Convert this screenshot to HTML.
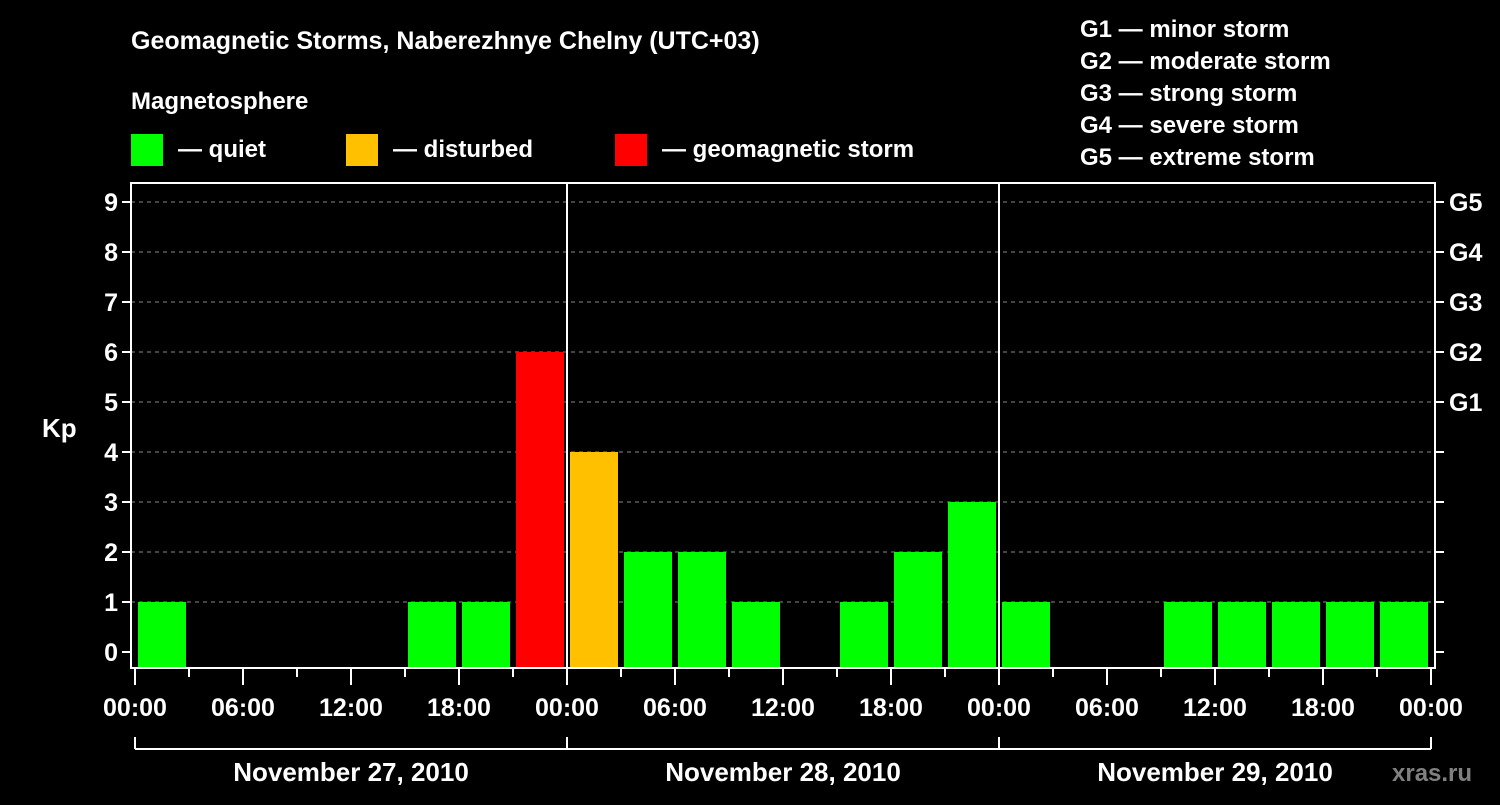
<!DOCTYPE html>
<html><head><meta charset="utf-8"><style>
body{margin:0;background:#000;width:1500px;height:800px;overflow:hidden;font-family:"Liberation Sans",sans-serif;font-weight:bold;color:#fff}
svg text{font-family:"Liberation Sans",sans-serif;font-weight:bold;fill:#fff}
</style></head><body>
<svg id="c" width="1500" height="800">
<text x="131" y="49" font-size="25">Geomagnetic Storms, Naberezhnye Chelny (UTC+03)</text>
<text x="131" y="109" font-size="24">Magnetosphere</text>
<rect x="131" y="134" width="32" height="32" fill="#00ff00"/>
<text x="178" y="157" font-size="24">— quiet</text>
<rect x="346" y="134" width="32" height="32" fill="#ffc000"/>
<text x="393" y="157" font-size="24">— disturbed</text>
<rect x="615" y="134" width="32" height="32" fill="#ff0000"/>
<text x="662" y="157" font-size="24">— geomagnetic storm</text>
<g font-size="24">
<text x="1080" y="37">G1 — minor storm</text>
<text x="1080" y="69">G2 — moderate storm</text>
<text x="1080" y="101">G3 — strong storm</text>
<text x="1080" y="133">G4 — severe storm</text>
<text x="1080" y="165">G5 — extreme storm</text>
</g>
<text x="42" y="437" font-size="26">Kp</text>
<text x="1392" y="781" font-size="24" fill="#808080" style="fill:#808080">xras.ru</text>
<g id="plot"></g>
</svg>
<script>
const days = ["November 27, 2010","November 28, 2010","November 29, 2010"];
const kpValues = [1,0,0,0,0,1,1,6, 4,2,2,1,0,1,2,3, 1,0,0,1,1,1,1,1];
const yTicks = [0,1,2,3,4,5,6,7,8,9];
const gLabels = ["G1","G2","G3","G4","G5"];
const timeLabels = ["00:00","06:00","12:00","18:00"];

const NS="http://www.w3.org/2000/svg";
const g=document.getElementById('plot');
const X0=135, DAY=432, L=131, R=1435, T=183, B=668;
const x=h=>X0+h*DAY/24;
const y=v=>652-50*v;
function el(t,a){const e=document.createElementNS(NS,t);for(const k in a)e.setAttribute(k,a[k]);g.appendChild(e);return e;}
function color(v){return v>=5?"#ff0000":v>=4?"#ffc000":"#00ff00";}

yTicks.forEach(v=>{
  if(v>0){const l=el('line',{x1:L,x2:R,y1:y(v),y2:y(v),stroke:'#888','stroke-dasharray':'4 4','stroke-width':1});
  
  }
  const tk=el('line',{x1:L-9,x2:L,y1:y(v),y2:y(v),stroke:'#fff','stroke-width':2});
  
  
  const tr=el('line',{x1:R,x2:R+9,y1:y(v),y2:y(v),stroke:'#fff','stroke-width':2});
  
  
  const t=el('text',{x:L-13,y:y(v)+9,'font-size':25,'text-anchor':'end'});t.textContent=v;
  
  
});
gLabels.forEach((s,i)=>{
  const t=el('text',{x:1449,y:y(5+i)+9,'font-size':25});t.textContent=s;
  
  
});
kpValues.forEach((v,i)=>{
  if(v<=0)return;
  const r=el('rect',{x:x(i*3)+3,y:y(v),width:48,height:B-y(v),fill:color(v)});
  
  
});
const fr=el('rect',{x:L,y:T,width:R-L,height:B-T,fill:'none',stroke:'#fff','stroke-width':2});


for(let d=1;d<days.length;d++){
  const l=el('line',{x1:x(24*d),x2:x(24*d),y1:T,y2:B,stroke:'#fff','stroke-width':2});
  
  
}
for(let h=0;h<=24*days.length;h+=3){
  const major=h%6==0;
  const l=el('line',{x1:x(h),x2:x(h),y1:B,y2:B+(major?17:9),stroke:'#fff','stroke-width':2});
  
  
  if(major){const t=el('text',{x:x(h),y:716,'font-size':25,'text-anchor':'middle'});t.textContent=timeLabels[(h/6)%4];
  
  }
}
const br=el('line',{x1:x(0),x2:x(24*days.length),y1:749,y2:749,stroke:'#fff','stroke-width':2});


for(let d=0;d<=days.length;d++){
  const l=el('line',{x1:x(24*d),x2:x(24*d),y1:737,y2:749,stroke:'#fff','stroke-width':2});
  
  
}
days.forEach((s,d)=>{
  const t=el('text',{x:x(24*d+12),y:781,'font-size':26,'text-anchor':'middle'});t.textContent=s;
  
  
});
</script>
</body></html>
